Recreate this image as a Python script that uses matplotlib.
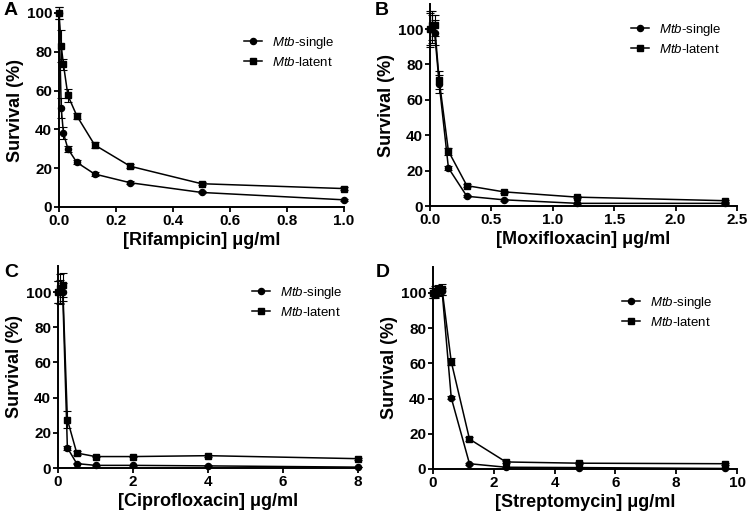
import matplotlib
matplotlib.use("Agg")
import matplotlib.pyplot as plt
from matplotlib.lines import Line2D

plt.rcParams["font.family"] = ["Liberation Sans", "DejaVu Sans"]
plt.rcParams["mathtext.fontset"] = "custom"
plt.rcParams["mathtext.it"] = "Liberation Sans:italic"
plt.rcParams["mathtext.rm"] = "Liberation Sans"

# Rifampicin
rif_x = [0, 0.0078, 0.0156, 0.03125, 0.0625, 0.125, 0.25, 0.5, 1.0]
rif_single = [100, 51, 38, 30, 23, 17, 12.5, 7.5, 3.7]
rif_single_err = [3, 5, 3, 1.5, 1, 1, 0.8, 0.5, 0.5]
rif_latent = [100, 83, 73.5, 57.5, 47, 32, 21, 12, 9.5]
rif_latent_err = [3, 8, 3, 3.5, 1.5, 1.5, 1, 0.8, 0.7]

# Moxifloxacin
mox_x = [0, 0.01875, 0.0375, 0.075, 0.15, 0.3, 0.6, 1.2, 2.4]
mox_single = [100, 100, 98, 69, 21.5, 5.5, 3.5, 1.5, 1.5]
mox_single_err = [9, 8, 7, 5, 1, 0.5, 0.5, 0.3, 0.3]
mox_latent = [100, 102, 102, 71, 31, 11.5, 8, 5, 3]
mox_latent_err = [10, 8, 6, 5, 2, 1, 0.6, 0.5, 0.5]

# Ciprofloxacin
cip_x = [0, 0.0625, 0.125, 0.25, 0.5, 1, 2, 4, 8]
cip_single = [100, 100, 100, 11.5, 2.5, 1.5, 1.5, 1.2, 0.5]
cip_single_err = [6, 7, 5, 1, 0.5, 0.3, 0.3, 0.3, 0.2]
cip_latent = [100, 102, 104, 27.5, 8.5, 6.5, 6.5, 7, 5.3]
cip_latent_err = [6, 8, 7, 5, 1, 0.5, 0.5, 0.5, 0.5]

# Streptomycin
str_x = [0, 0.075, 0.15, 0.3, 0.6, 1.2, 2.4, 4.8, 9.6]
str_single = [100, 100, 101, 101, 40.5, 3, 1, 0.8, 0.3]
str_single_err = [3, 3, 2, 2, 1, 0.5, 0.3, 0.3, 0.2]
str_latent = [100, 101, 101.5, 102, 61, 17, 4, 3.3, 3]
str_latent_err = [3, 3, 3, 3, 2, 1, 0.5, 0.5, 0.5]

panels = [
    ("A", "[Rifampicin] μg/ml", rif_x, rif_single, rif_single_err, rif_latent, rif_latent_err,
     [0.0, 0.2, 0.4, 0.6, 0.8, 1.0], "{:.1f}", 100),
    ("B", "[Moxifloxacin] μg/ml", mox_x, mox_single, mox_single_err, mox_latent, mox_latent_err,
     [0.0, 0.5, 1.0, 1.5, 2.0, 2.5], "{:.1f}", 114),
    ("C", "[Ciprofloxacin] μg/ml", cip_x, cip_single, cip_single_err, cip_latent, cip_latent_err,
     [0, 2, 4, 6, 8], "{:d}", 115),
    ("D", "[Streptomycin] μg/ml", str_x, str_single, str_single_err, str_latent, str_latent_err,
     [0, 2, 4, 6, 8, 10], "{:d}", 115),
]

# axes boxes in pixels: left, right, bottom, y-per-unit
boxes = [(59, 344, 207, 1.94), (430, 737, 206, 1.77), (58, 358, 468, 1.76), (433, 737, 469, 1.76)]
legend_pos = [(244, 35), (631, 22), (252, 285), (622, 295)]
letter_pos = [(4, 2), (375, 2), (4, 264), (376, 264)]

W, H = 750, 519
fig = plt.figure(figsize=(W / 100, H / 100), dpi=100)

for i, (letter, xlabel, x, s, se, l, le, xticks, fmt, ytop) in enumerate(panels):
    left, right, bottom, ppu = boxes[i]
    height = ytop * ppu
    ax = fig.add_axes([left / W, (H - bottom) / H, (right - left) / W, height / H])

    ax.errorbar(x, s, yerr=se, color="black", marker="o", markersize=4.4, lw=1.1,
                elinewidth=0.8, capsize=2.8, capthick=0.8, clip_on=False)
    ax.errorbar(x, l, yerr=le, color="black", marker="s", markersize=4.8, lw=1.1,
                elinewidth=0.8, capsize=2.8, capthick=0.8, clip_on=False)

    ax.set_xlim(xticks[0], xticks[-1])
    ax.set_ylim(0, ytop)
    ax.set_xticks(xticks)
    ax.set_xticklabels([fmt.format(t) for t in xticks])
    ax.set_yticks([0, 20, 40, 60, 80, 100])

    for side in ["top", "right"]:
        ax.spines[side].set_visible(False)
    for side in ["left", "bottom"]:
        ax.spines[side].set_linewidth(1.4)
    ax.tick_params(direction="out", length=3.5, width=1.3, labelsize=11, pad=1.5)
    for lab in ax.get_xticklabels() + ax.get_yticklabels():
        lab.set_fontweight("bold")

    ax.set_xlabel(xlabel, fontsize=13, fontweight="bold", labelpad=3)
    ax.set_ylabel("Survival (%)", fontsize=13, fontweight="bold", labelpad=2)

    handles = [
        Line2D([], [], color="black", marker="o", markersize=4.4, lw=1.1),
        Line2D([], [], color="black", marker="s", markersize=4.8, lw=1.1),
    ]
    lx, ly = legend_pos[i]
    ax.legend(handles, [r"$\it{Mtb}$-single", r"$\it{Mtb}$-latent"],
              loc="upper left", bbox_to_anchor=(lx / W, 1 - ly / H),
              bbox_transform=fig.transFigure, frameon=False, fontsize=9.5,
              handlelength=1.4, handletextpad=0.7, borderpad=0, borderaxespad=0,
              labelspacing=0.35)

    px, py = letter_pos[i]
    fig.text(px / W, 1 - py / H, letter, fontsize=14, fontweight="bold", va="top", ha="left")

fig.savefig("out.png", dpi=100)
